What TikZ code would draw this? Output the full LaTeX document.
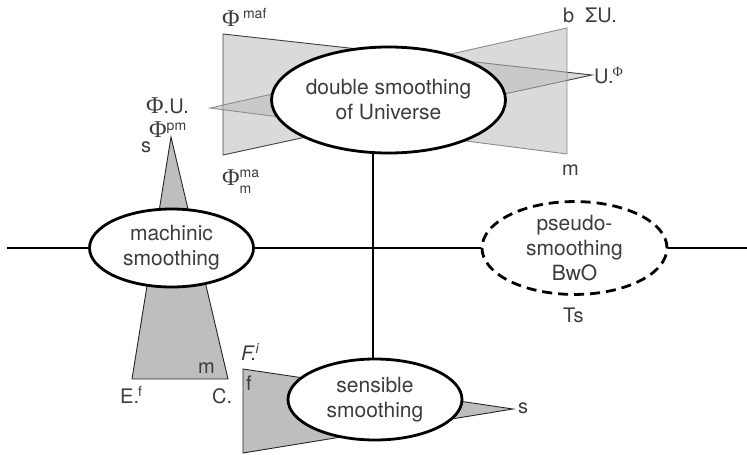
\documentclass[tikz,border=0pt]{standalone}
\usepackage{fontspec}
\setmainfont{TeX Gyre Heros}
\newfontfamily\phifont{Liberation Serif}
\usetikzlibrary{shapes.geometric}

\definecolor{paleshade}{RGB}{186,187,190}
\definecolor{midshade}{RGB}{189,190,192}
\definecolor{inkgray}{RGB}{60,60,60}

\newcommand{\bigphi}{{\phifont\fontsize{24}{24}\selectfont Φ}}
\newcommand{\lblsup}[1]{\raisebox{7pt}{\fontsize{14}{14}\selectfont #1}}
\newcommand{\lblpair}[2]{\raisebox{-8pt}{\fontsize{14}{16}\selectfont\begin{tabular}[b]{@{}l@{}}#1\\#2\end{tabular}}}

\begin{document}
\begin{tikzpicture}[
    x=1pt, y=-1pt,
    smoothing/.style={ellipse, draw=black, fill=white, line width=2.8pt, inner sep=0pt, align=center, text=inkgray, font=\fontsize{21}{25}\selectfont},
    link/.style={line width=2.8pt},
    lbl/.style={anchor=base west, inner sep=0pt, text=inkgray, font=\fontsize{20}{24}\selectfont},
    wedge/.style={line width=0.9pt, line join=miter}
]

\useasboundingbox (0,0) rectangle (747,455);

% Universe wedges (two crossing triangles)
\filldraw[wedge, fill=paleshade, fill opacity=0.55, draw=black!75] (223,34) -- (223,155) -- (592,75) -- cycle;
\filldraw[wedge, fill=paleshade, fill opacity=0.55, draw=black!45] (567,28) -- (567,154) -- (210,108) -- cycle;

% machinic and sensible wedges
\filldraw[wedge, fill=midshade, draw=black!85] (171,137) -- (132,379) -- (228,379) -- cycle;
\filldraw[wedge, fill=midshade, draw=black!85] (243,369) -- (243,453) -- (513,409) -- cycle;

% Smoothings
\node[smoothing, minimum width=223pt, minimum height=106pt] (double) at (388.5,100) {double smoothing\\of Universe};
\node[smoothing, minimum width=164pt, minimum height=78pt] (machinic) at (171.5,248) {machinic\\smoothing};
\node[smoothing, dash pattern=on 10pt off 6pt, minimum width=185pt, minimum height=86pt] (pseudo) at (574.5,248) {pseudo-\\smoothing\\BwO};
\node[smoothing, minimum width=174pt, minimum height=81pt] (sensible) at (375,399.5) {sensible\\smoothing};

% Axes
\coordinate (hub) at (373,248);
\coordinate (westend) at (7,248);
\coordinate (eastend) at (747,248);
\draw[link] (westend) -- (machinic);
\draw[link] (machinic) -- (pseudo);
\draw[link] (pseudo) -- (eastend);
\draw[link] (double.south -| hub) -- (sensible.north -| hub);

% Labels
\node[lbl] (phimaf) at (222,26) {\bigphi\,\lblsup{maf}};
\node[lbl] (phiu) at (146,113) {\bigphi.U.};
\node[lbl] (phipm) at (149,137) {\bigphi\lblsup{pm}};
\node[lbl] (sapex) at (141,152) {s};
\node[lbl] (phima) at (222,185) {\bigphi\lblpair{ma}{m}};
\node[lbl] (bsigma) at (563,22) {b\ \ ΣU.};
\node[lbl] (uphi) at (594,83) {U.\kern-1pt\lblsup{\phifont Φ}};
\node[lbl] (mright) at (562,175) {m};
\node[lbl] (mleft) at (198,373) {m};
\node[lbl] (ef) at (120,403) {E.\kern-1pt\lblsup{f}};
\node[lbl] (cdot) at (212,403) {C.};
\node[lbl] (fi) at (241,360) {\textit{F.\kern-1pt\lblsup{i}}};
\node[lbl] (fsmall) at (246,390) {f};
\node[lbl] (stip) at (518,413) {s};
\node[lbl] (ts) at (563,322) {Ts};

\end{tikzpicture}
\end{document}
